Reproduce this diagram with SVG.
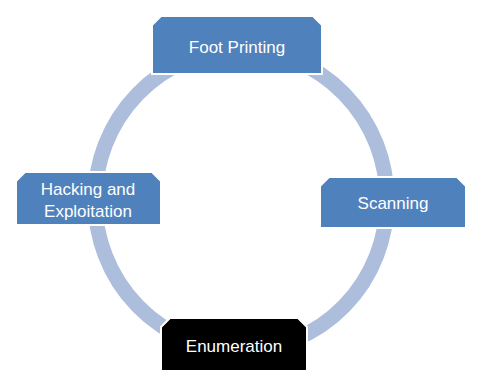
<svg xmlns="http://www.w3.org/2000/svg" width="484" height="389" viewBox="0 0 484 389">
<style>
.ring{fill:none;stroke:#adbedd;stroke-width:15}
.box{fill:#4f81bd;stroke:#ffffff;stroke-width:2}
.dark{fill:#000000;stroke:#ffffff;stroke-width:2}
.lbl{font-family:"Liberation Sans",Arial,sans-serif;font-size:17px;fill:#ffffff;text-anchor:middle}
</style>
<rect width="484" height="389" fill="#ffffff"/>
<g id="connectors">
<ellipse class="ring" cx="241" cy="200" rx="146" ry="150"/>
</g>
<g id="foot-printing">
<path class="box" d="M161,16 L313,16 L322,25 L322,74 L152,74 L152,25 Z"/>
<text class="lbl" x="237" y="53">Foot Printing</text>
</g>
<g id="scanning">
<path class="box" d="M329,177 L457,177 L466,186 L466,228 L320,228 L320,186 Z"/>
<text class="lbl" x="393" y="209">Scanning</text>
</g>
<g id="enumeration">
<path class="dark" d="M170,318 L298,318 L307,327 L307,371 L161,371 L161,327 Z"/>
<text class="lbl" x="234" y="352">Enumeration</text>
</g>
<g id="hacking">
<path class="box" d="M25,172 L152,172 L161,181 L161,225 L16,225 L16,181 Z"/>
<text class="lbl" x="88" y="195">Hacking and</text>
<text class="lbl" x="88" y="217">Exploitation</text>
</g>
</svg>
